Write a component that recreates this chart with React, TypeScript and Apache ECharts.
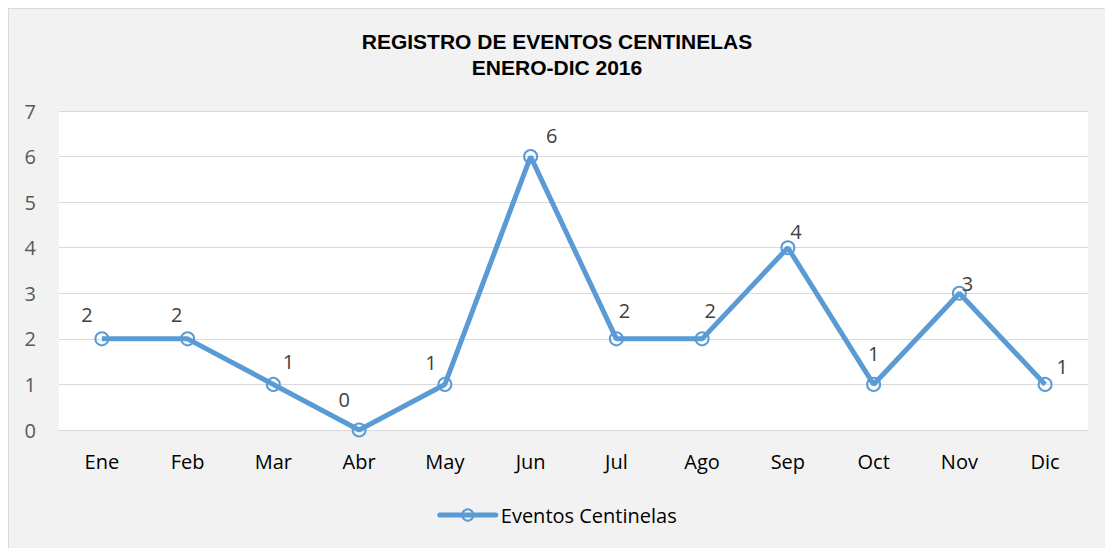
import React, { useEffect, useRef } from "react";
import * as echarts from "echarts";

const titleLines = ["REGISTRO DE EVENTOS CENTINELAS", "ENERO-DIC 2016"];
const categories = ["Ene", "Feb", "Mar", "Abr", "May", "Jun", "Jul", "Ago", "Sep", "Oct", "Nov", "Dic"];
const seriesName = "Eventos Centinelas";
const values = [2, 2, 1, 0, 1, 6, 2, 2, 4, 1, 3, 1];
const yTicks = { min: 0, max: 7, interval: 1 };
// label placement per point (dx, dy) relative to the marker
const labelOffsets: [number, number][] = [
  [-15, -24], [-11, -24], [15, -23], [-15, -31], [-14, -22], [21, -21],
  [8, -28], [8, -28], [8, -16], [0, -31], [8, -10], [17, -18],
];

const FONT = "'Open Sans', 'Noto Sans', sans-serif";
const BLUE = "#5B9BD5";

export default function App() {
  const ref = useRef<HTMLDivElement>(null);
  useEffect(() => {
    if (!ref.current) return;
    const chart = echarts.init(ref.current, undefined, { renderer: "svg" });
    chart.setOption({
      animation: false,
      backgroundColor: "#F2F2F2",
      textStyle: { fontFamily: FONT },
      title: {
        text: titleLines.join("\n"),
        left: "center",
        top: 14,
        textStyle: {
          fontFamily: "'Liberation Sans', Arial, sans-serif",
          fontWeight: "bold",
          fontSize: 21,
          lineHeight: 26,
          color: "#000",
        },
      },
      grid: {
        left: 50,
        right: 17,
        top: 102,
        bottom: 118,
        show: true,
        backgroundColor: "#FFFFFF",
        borderWidth: 0,
        containLabel: false,
      },
      legend: {
        bottom: 18,
        left: "center",
        itemWidth: 56,
        itemHeight: 14,
        itemGap: 4,
        lineStyle: { width: 5, color: BLUE, cap: "round" },
        itemStyle: { color: "rgba(255,255,255,0)", borderColor: BLUE, borderWidth: 2 },
        textStyle: { fontFamily: FONT, fontSize: 20, color: "#000" },
        data: [seriesName],
      },
      xAxis: {
        type: "category",
        data: categories,
        boundaryGap: true,
        axisLine: { show: true, lineStyle: { color: "#D9D9D9", width: 1 } },
        axisTick: { show: false },
        axisLabel: { color: "#000", fontSize: 20, margin: 21, fontFamily: FONT },
      },
      yAxis: {
        type: "value",
        min: yTicks.min,
        max: yTicks.max,
        interval: yTicks.interval,
        axisLine: { show: false },
        axisTick: { show: false },
        splitLine: { show: true, lineStyle: { color: "#D9D9D9", width: 1 } },
        axisLabel: { color: "#595959", fontSize: 20, margin: 23, fontFamily: FONT },
      },
      series: [
        {
          name: seriesName,
          type: "line",
          data: values.map((v, i) => ({
            value: v,
            label: { offset: labelOffsets[i] },
          })),
          symbol: "circle",
          symbolSize: 13,
          showAllSymbol: true,
          lineStyle: { color: BLUE, width: 5 },
          itemStyle: { color: "rgba(255,255,255,0)", borderColor: BLUE, borderWidth: 2 },
          label: {
            show: true,
            position: "inside",
            color: "#404040",
            fontSize: 20,
            fontFamily: FONT,
          },
          emphasis: { disabled: true },
        },
      ],
    });
    return () => chart.dispose();
  }, []);
  return (
    <div
      style={{
        position: "absolute",
        left: 8,
        top: 8,
        width: 1097,
        height: 540,
        boxSizing: "border-box",
        background: "#F2F2F2",
        borderTop: "1px solid #D9D9D9",
        borderLeft: "1px solid #D9D9D9",
      }}
    >
      <div ref={ref} style={{ width: 1096, height: 539 }} />
    </div>
  );
}
